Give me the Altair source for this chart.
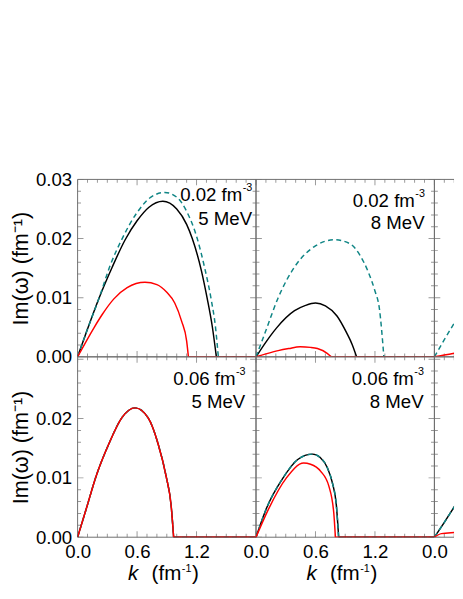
import altair as alt
import pandas as pd

FONT = "Liberation Sans"
FRAME = "#6e6e6e"
BLACK = "#000000"
TEAL = "#0f8585"
RED = "#ff0000"

# ---------------- data ----------------
# Panel A: 0.02 fm^-3, 5 MeV
A_black_k = [0, 0.10, 0.218, 0.35, 0.48, 0.60, 0.72, 0.86, 1.00, 1.10, 1.157, 1.25, 1.306, 1.36, 1.40, 1.80]
A_black_v = [0, 0.0047, 0.0100, 0.0152, 0.0198, 0.0230, 0.0253, 0.0263, 0.0250, 0.0224, 0.0200, 0.0145, 0.0100, 0.0050, 0.0, 0.0]
A_teal_k = [0, 0.10, 0.22, 0.33, 0.45, 0.60, 0.74, 0.88, 1.00, 1.10, 1.207, 1.28, 1.35, 1.39, 1.42, 1.80]
A_teal_v = [0, 0.0047, 0.0101, 0.0155, 0.0200, 0.0244, 0.0270, 0.0278, 0.0270, 0.0246, 0.0200, 0.0152, 0.0095, 0.0052, 0.0, 0.0]
A_red_k = [0, 0.168, 0.25, 0.366, 0.50, 0.68, 0.80, 0.90, 0.98, 1.05, 1.10, 1.118, 1.80]
A_red_v = [0, 0.0050, 0.0072, 0.0098, 0.0117, 0.0126, 0.0122, 0.0109, 0.0091, 0.0060, 0.0027, 0.0, 0.0]

# Panel B: 0.02 fm^-3, 8 MeV
B_black_k = [0, 0.10, 0.208, 0.389, 0.50, 0.60, 0.70, 0.817, 0.916, 0.97, 1.015, 1.80]
B_black_v = [0, 0.0025, 0.0049, 0.0078, 0.0087, 0.0091, 0.0086, 0.0069, 0.0040, 0.0021, 0.0, 0.0]
B_teal_k = [0, 0.092, 0.224, 0.389, 0.603, 0.791, 0.95, 1.048, 1.131, 1.197, 1.246, 1.29, 1.80]
B_teal_v = [0, 0.0041, 0.0100, 0.0152, 0.0188, 0.0198, 0.0191, 0.0172, 0.0144, 0.0113, 0.0080, 0.0, 0.0]
B_red_k = [0, 0.10, 0.224, 0.33, 0.445, 0.55, 0.62, 0.718, 0.76, 1.80]
B_red_v = [0, 0.0005, 0.00105, 0.0014, 0.0017, 0.0016, 0.0014, 0.0006, 0.0, 0.0]

# Panel C: 0.02 fm^-3, third temperature (cut at the right edge)
C_teal_k = [0, 0.10, 0.20, 0.30]
C_teal_v = [0, 0.0029, 0.0057, 0.0084]
C_red_k = [0, 0.10, 0.20, 0.30]
C_red_v = [0, 0.0003, 0.0006, 0.0009]

# Panel D: 0.06 fm^-3, 5 MeV (all three curves coincide)
D_k = [0, 0.086, 0.185, 0.317, 0.449, 0.58, 0.712, 0.811, 0.894, 0.944, 0.969, 1.80]
D_v = [0, 0.0047, 0.0102, 0.0158, 0.0202, 0.0218, 0.0201, 0.0158, 0.0102, 0.0053, 0.0, 0.0]

# Panel E: 0.06 fm^-3, 8 MeV (black and teal coincide)
E_black_k = [0, 0.109, 0.273, 0.421, 0.57, 0.65, 0.72, 0.77, 0.81, 0.834, 1.80]
E_black_v = [0, 0.0050, 0.0100, 0.0131, 0.0140, 0.0134, 0.0117, 0.0092, 0.0055, 0.0, 0.0]
E_red_k = [0, 0.125, 0.307, 0.481, 0.55, 0.653, 0.735, 0.784, 0.801, 1.80]
E_red_v = [0, 0.0047, 0.0100, 0.0125, 0.0123, 0.0111, 0.0086, 0.0042, 0.0, 0.0]

# Panel F: 0.06 fm^-3, third temperature (cut)
F_black_k = [0, 0.10, 0.20, 0.30]
F_black_v = [0, 0.0025, 0.0051, 0.0076]
F_red_k = [0, 0.07, 0.20, 0.30]
F_red_v = [0, 0.0006, 0.0008, 0.0009]

# axis ticks and labels
x_ticks = [0.0, 0.1, 0.2, 0.3, 0.4, 0.5, 0.6, 0.7, 0.8, 0.9, 1.0, 1.1, 1.2, 1.3, 1.4, 1.5, 1.6, 1.7, 1.8]
x_major = [0.0, 0.6, 1.2, 1.8]
y_ticks = [0.000, 0.002, 0.004, 0.006, 0.008, 0.010, 0.012, 0.014, 0.016, 0.018,
           0.020, 0.022, 0.024, 0.026, 0.028, 0.030]
y_major = [0.00, 0.01, 0.02, 0.03]
x_labels = [0.0, 0.6, 1.2]
x_labels_cut = [0.0]
y_labels_top = [0.00, 0.01, 0.02, 0.03]
y_labels_bot = [0.00, 0.01, 0.02]

# ---------------- geometry ----------------
W_MAIN, W_CUT = 182, 20
H_TOP, H_BOT = 181, 184
K_DOM = [0, 1.8]
K_DOM_CUT = [0, 0.198]
V_DOM_TOP = [0, 0.03]
V_DOM_BOT = [0, 0.0304]
MAJ_LEN, MIN_LEN = 12, 7  # doubled: half is clipped away (inward ticks)
LBL = 19

xt_df = pd.DataFrame({"k": x_ticks,
                      "len": [MAJ_LEN if any(abs(t - m) < 1e-9 for m in x_major) else MIN_LEN for t in x_ticks]})
yt_df = pd.DataFrame({"v": y_ticks,
                      "len": [MAJ_LEN if any(abs(t - m) < 1e-9 for m in y_major) else MIN_LEN for t in y_ticks]})

ONE = alt.Data(values=[{"a": 1}])


def txt(text, x, y, size=LBL, align="right", style="normal"):
    return alt.Chart(ONE).mark_text(
        text=text, align=align, baseline="alphabetic", fontSize=size, font=FONT,
        color="black", fontStyle=style
    ).encode(x=alt.value(x), y=alt.value(y))


def split_curve(ks, vs):
    """arch = up to the first zero after the peak; tail = flat zero part."""
    peak = max(range(len(vs)), key=lambda i: vs[i])
    end = None
    for i in range(peak, len(vs)):
        if vs[i] == 0:
            end = i
            break
    if end is None:
        return (ks, vs), None
    return (ks[:end + 1], vs[:end + 1]), (ks[end:], vs[end:])


def panel(curves, w, h, kdom, vdom, xlab, ylab, ann, frame_right=True, xtitle=False):
    xaxis = None
    if xlab is not None:
        xaxis = alt.Axis(values=xlab, format=".1f", domain=False, ticks=False, grid=False,
                         labelFontSize=LBL, labelPadding=6, labelFlush=False, labelColor="black",
                         labelFont=FONT, title=None)
    yaxis = None
    if ylab is not None:
        yaxis = alt.Axis(values=ylab, format=".2f", domain=False, ticks=False, grid=False,
                         labelFontSize=LBL, labelPadding=6, labelColor="black", labelFont=FONT,
                         title="Im(ω)  (fm⁻¹)", titleFontSize=22, titleFont=FONT,
                         titleFontWeight="normal", titleColor="black", titlePadding=3)
    X = alt.X("k:Q", scale=alt.Scale(domain=kdom, nice=False, zero=False), axis=xaxis)
    Y = alt.Y("v:Q", scale=alt.Scale(domain=vdom, nice=False, zero=False), axis=yaxis)

    layers = []
    # frame
    fr = alt.Chart(ONE).mark_rule(color=FRAME, strokeWidth=1)
    layers.append(fr.encode(x=alt.value(0), x2=alt.value(w), y=alt.value(0)))
    layers.append(fr.encode(x=alt.value(0), x2=alt.value(w), y=alt.value(h)))
    layers.append(fr.encode(y=alt.value(0), y2=alt.value(h), x=alt.value(0)))
    if frame_right:
        layers.append(fr.encode(y=alt.value(0), y2=alt.value(h), x=alt.value(w)))
    # inward ticks
    S = alt.Size("len:Q", scale=None, legend=None)
    tx = alt.Chart(xt_df).mark_tick(orient="vertical", clip=True, color=FRAME, thickness=1)
    layers.append(tx.encode(x=X, y=alt.value(h), size=S))
    layers.append(tx.encode(x=X, y=alt.value(0), size=S))
    ty = alt.Chart(yt_df).mark_tick(orient="horizontal", clip=True, color=FRAME, thickness=1)
    layers.append(ty.encode(y=Y, x=alt.value(0), size=S))
    if frame_right:
        layers.append(ty.encode(y=Y, x=alt.value(w), size=S))
    # curves
    for ks, vs, color, dashed in curves:
        arch, tail = split_curve(ks, vs)
        kw = dict(color=color, strokeWidth=1.5, clip=True)
        if dashed:
            kw["strokeDash"] = [5, 3.5]
        df = pd.DataFrame({"k": arch[0], "v": arch[1]})
        layers.append(alt.Chart(df).mark_line(interpolate="monotone", **kw).encode(x=X, y=Y))
        if tail is not None:
            dft = pd.DataFrame({"k": tail[0], "v": tail[1]})
            layers.append(alt.Chart(dft).mark_line(**kw).encode(x=X, y=Y))
    # annotation
    if ann is not None:
        l1, l2, r, b1, b2 = ann
        supw = 10
        layers.append(txt(l1, w - r - supw, b1))
        layers.append(txt("-3", w - r - supw + 0.5, b1 - 10, size=11, align="left"))
        layers.append(txt(l2, w - r, b2))
    if xtitle:
        ty0 = h + 44
        x0 = 75.5
        layers.append(txt("k", 62, ty0, size=21, align="right", style="italic"))
        layers.append(txt("(fm", x0, ty0, size=21, align="left"))
        layers.append(txt("-1", x0 + 30.8, ty0 - 8, size=11, align="left"))
        layers.append(txt(")", x0 + 30.8 + 10.5, ty0, size=21, align="left"))
    return alt.layer(*layers).properties(width=w, height=h)


pA = panel([(A_black_k, A_black_v, BLACK, False), (A_teal_k, A_teal_v, TEAL, True), (A_red_k, A_red_v, RED, False)],
           W_MAIN, H_TOP, K_DOM, V_DOM_TOP, None, y_labels_top, ("0.02 fm", "5 MeV", 4, 22, 46))
pB = panel([(B_black_k, B_black_v, BLACK, False), (B_teal_k, B_teal_v, TEAL, True), (B_red_k, B_red_v, RED, False)],
           W_MAIN, H_TOP, K_DOM, V_DOM_TOP, None, None, ("0.02 fm", "8 MeV", 10, 28, 51))
pC = panel([(C_teal_k, C_teal_v, TEAL, True), (C_red_k, C_red_v, RED, False)],
           W_CUT, H_TOP, K_DOM_CUT, V_DOM_TOP, None, None, None, frame_right=False)
pD = panel([(D_k, D_v, BLACK, False), (D_k, D_v, TEAL, True), (D_k, D_v, RED, False)],
           W_MAIN, H_BOT, K_DOM, V_DOM_BOT, x_labels, y_labels_bot, ("0.06 fm", "5 MeV", 11, 29, 52), xtitle=True)
pE = panel([(E_black_k, E_black_v, BLACK, False), (E_black_k, E_black_v, TEAL, True), (E_red_k, E_red_v, RED, False)],
           W_MAIN, H_BOT, K_DOM, V_DOM_BOT, x_labels, None, ("0.06 fm", "8 MeV", 11, 29, 52), xtitle=True)
pF = panel([(F_black_k, F_black_v, BLACK, False), (F_black_k, F_black_v, TEAL, True), (F_red_k, F_red_v, RED, False)],
           W_CUT, H_BOT, K_DOM_CUT, V_DOM_BOT, x_labels_cut, None, None, frame_right=False)

chart = alt.concat(pA, pB, pC, pD, pE, pF, columns=3, spacing=0, bounds="flush", align="each").properties(
    padding={"left": 2, "top": 160, "right": 0, "bottom": 0}
).configure(font=FONT).configure_view(stroke=None)

chart.save("out.html", embed_options={"renderer": "svg", "actions": False})
